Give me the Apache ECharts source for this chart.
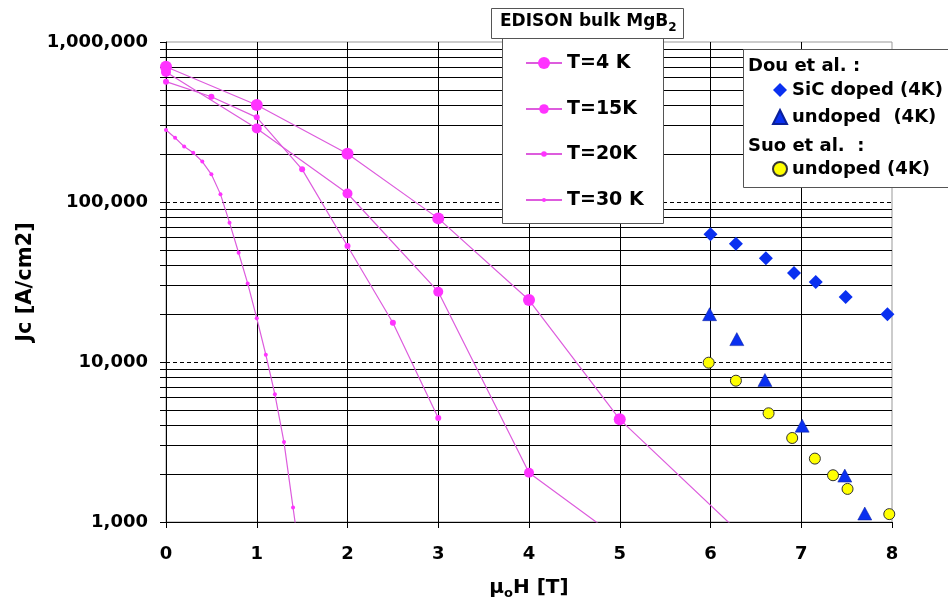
<!DOCTYPE html>
<html>
<head>
<meta charset="utf-8">
<script src="https://cdn.jsdelivr.net/npm/echarts@6/dist/echarts.min.js"></script>
<style>html,body{margin:0;padding:0;background:#fff}#c{width:948px;height:600px}</style>
</head>
<body>
<div id="c"></div>
<script>
// ---- data ----
const t4x  = [0, 1, 2, 3, 4, 5, 7];
const t4y  = [700000, 404000, 200000, 79000, 24400, 4380, 370];
const t15x = [0, 1, 2, 3, 4, 5];
const t15y = [650000, 288000, 113000, 27500, 2030, 780];
const t20x = [0, 0.5, 1, 1.5, 2, 2.5, 3];
const t20y = [565000, 455000, 338000, 160000, 53100, 17600, 4460];
const t30x = [0, 0.1, 0.2, 0.3, 0.4, 0.5, 0.6, 0.7, 0.8, 0.9, 1.0, 1.1, 1.2, 1.3, 1.4, 1.5];
const t30y = [282000, 252000, 222000, 203000, 179000, 149000, 112000, 74300, 48200, 31000, 18800, 11100, 6280, 3160, 1230, 480];
const sicx = [6.0, 6.28, 6.61, 6.92, 7.16, 7.49, 7.95];
const sicy = [62800, 54900, 44500, 36000, 31600, 25500, 19900];
const undx = [5.99, 6.29, 6.60, 7.01, 7.48, 7.70];
const undy = [19900, 13900, 7720, 4000, 1950, 1130];
const suox = [5.98, 6.28, 6.64, 6.90, 7.15, 7.35, 7.51, 7.97];
const suoy = [9900, 7640, 4780, 3350, 2490, 1960, 1610, 1120];
const seriesNames = ['T=4 K', 'T=15K', 'T=20K', 'T=30 K'];
const otherNames = ['SiC doped (4K)', 'undoped  (4K)', 'undoped (4K)'];
const xTickMin = 0, xTickMax = 8, xTickStep = 1;
const yMin = 1000, yMax = 1000000;

const pair = (xs, ys) => xs.map((x, i) => [x, ys[i]]);
const FF = 'DejaVu Sans';
const LINE = '#DD5CDD', MARK = '#FF33FF', BLUE = '#0A30F0';

function lineSeries(name, xs, ys, size) {
  return {
    name, type: 'line', data: pair(xs, ys), clip: true, smooth: false,
    symbol: 'circle', symbolSize: size, showSymbol: true,
    lineStyle: { color: LINE, width: 1.2 },
    itemStyle: { color: MARK, borderWidth: 0 },
    z: 3
  };
}
const legText = { fontFamily: FF, fontWeight: 'bold', fontSize: 19, lineHeight: 20, color: '#000' };
// one legend per temperature so that each icon keeps its own marker size
const legCenters = [63, 109, 154, 200];
const legHeights = [15, 12, 7, 5];
const tLegends = seriesNames.map((n, i) => ({
  data: [n], orient: 'vertical', left: 525, top: legCenters[i] - 10,
  padding: 0, itemWidth: 36, itemHeight: legHeights[i], selectedMode: false, z: 20,
  textStyle: legText
}));

const chart = echarts.init(document.getElementById('c'), null, { renderer: 'canvas' });
chart.setOption({
  backgroundColor: '#fff',
  animation: false,
  title: {
    text: '{a|EDISON bulk MgB}{s|2}',
    left: 491, top: 5,
    padding: [5, 7, 5, 9],
    backgroundColor: '#fff', borderColor: '#555', borderWidth: 1,
    z: 20,
    textStyle: {
      rich: {
        a: { fontFamily: FF, fontWeight: 'bold', fontSize: 17, color: '#000', lineHeight: 24 },
        s: { fontFamily: FF, fontWeight: 'bold', fontSize: 12, color: '#000', lineHeight: 12, verticalAlign: 'bottom' }
      }
    }
  },
  grid: { left: 166, right: 56, top: 42, bottom: 78, outerBoundsMode: 'none', containLabel: false,
          show: true, borderColor: '#999', borderWidth: 1, backgroundColor: 'transparent' },
  xAxis: {
    type: 'value', min: xTickMin, max: xTickMax, interval: xTickStep,
    name: '{a|μ}{s|o}{a|H [T]}', nameLocation: 'middle', nameGap: 54,
    nameTextStyle: {
      rich: {
        a: { fontFamily: FF, fontWeight: 'bold', fontSize: 20, color: '#000', lineHeight: 24 },
        s: { fontFamily: FF, fontWeight: 'bold', fontSize: 13, color: '#000', lineHeight: 13, verticalAlign: 'bottom' }
      }
    },
    axisLine: { show: true, onZero: false, lineStyle: { color: '#000', width: 1 } },
    axisTick: { show: true, inside: false, length: 6, lineStyle: { color: '#000' } },
    axisLabel: { margin: 23, fontFamily: FF, fontWeight: 'bold', fontSize: 18, color: '#000' },
    splitLine: { show: true, showMaxLine: false, lineStyle: { color: '#000', width: 1 } }
  },
  yAxis: {
    type: 'log', logBase: 10, min: yMin, max: yMax,
    name: 'Jc [A/cm2]', nameLocation: 'middle', nameGap: 130,
    nameTextStyle: { fontFamily: FF, fontWeight: 'bold', fontSize: 21, color: '#000' },
    axisLine: { show: true, lineStyle: { color: '#000', width: 1 } },
    axisTick: { show: true, inside: false, length: 6, lineStyle: { color: '#000' } },
    minorTick: { show: true, splitNumber: 9, length: 6, lineStyle: { color: '#000' } },
    axisLabel: {
      margin: 18, fontFamily: FF, fontWeight: 'bold', fontSize: 18, color: '#000',
      formatter: v => Math.round(v).toLocaleString('en-US')
    },
    splitLine: { show: true, showMaxLine: false, lineStyle: { color: '#000', width: 1, type: [4, 3] } },
    minorSplitLine: { show: true, lineStyle: { color: '#000', width: 1 } }
  },
  legend: tLegends.concat([
    {
      data: [otherNames[0], otherNames[1]], orient: 'vertical', left: 772, top: 80,
      padding: 0, itemWidth: 14, itemHeight: 14, itemGap: 7, selectedMode: false, z: 20,
      textStyle: { fontFamily: FF, fontWeight: 'bold', fontSize: 18, lineHeight: 20, color: '#000' }
    },
    {
      data: [otherNames[2]], orient: 'vertical', left: 772, top: 159,
      padding: 0, itemWidth: 14, itemHeight: 14, itemGap: 7, selectedMode: false, z: 20,
      textStyle: { fontFamily: FF, fontWeight: 'bold', fontSize: 18, lineHeight: 20, color: '#000' }
    }
  ]),
  graphic: [
    { type: 'rect', left: 502, top: 38, z: 10, shape: { width: 161, height: 185 },
      style: { fill: '#fff', stroke: '#555', lineWidth: 1 } },
    { type: 'rect', left: 743, top: 49, z: 10, shape: { width: 215, height: 138 },
      style: { fill: '#fff', stroke: '#555', lineWidth: 1 } },
    { type: 'text', left: 748, top: 57, z: 21,
      style: { text: 'Dou et al. :', font: 'bold 18px "DejaVu Sans"', fill: '#000' } },
    { type: 'text', left: 748, top: 137, z: 21,
      style: { text: 'Suo et al.  :', font: 'bold 18px "DejaVu Sans"', fill: '#000' } }
  ],
  series: [
    lineSeries(seriesNames[0], t4x, t4y, 12),
    lineSeries(seriesNames[1], t15x, t15y, 10),
    lineSeries(seriesNames[2], t20x, t20y, 6),
    lineSeries(seriesNames[3], t30x, t30y, 4),
    { name: otherNames[0], type: 'scatter', data: pair(sicx, sicy), symbol: 'diamond', symbolSize: [14, 14],
      itemStyle: { color: BLUE, opacity: 1 }, z: 4 },
    { name: otherNames[1], type: 'scatter', data: pair(undx, undy), symbol: 'triangle', symbolSize: [14, 13],
      itemStyle: { color: BLUE, opacity: 1, borderColor: '#0a1f99', borderWidth: 0.5 }, z: 4 },
    { name: otherNames[2], type: 'scatter', data: pair(suox, suoy), symbol: 'circle', symbolSize: 11,
      itemStyle: { color: '#FFFF00', opacity: 1, borderColor: '#333', borderWidth: 1 }, z: 4 }
  ]
});
</script>
</body>
</html>
